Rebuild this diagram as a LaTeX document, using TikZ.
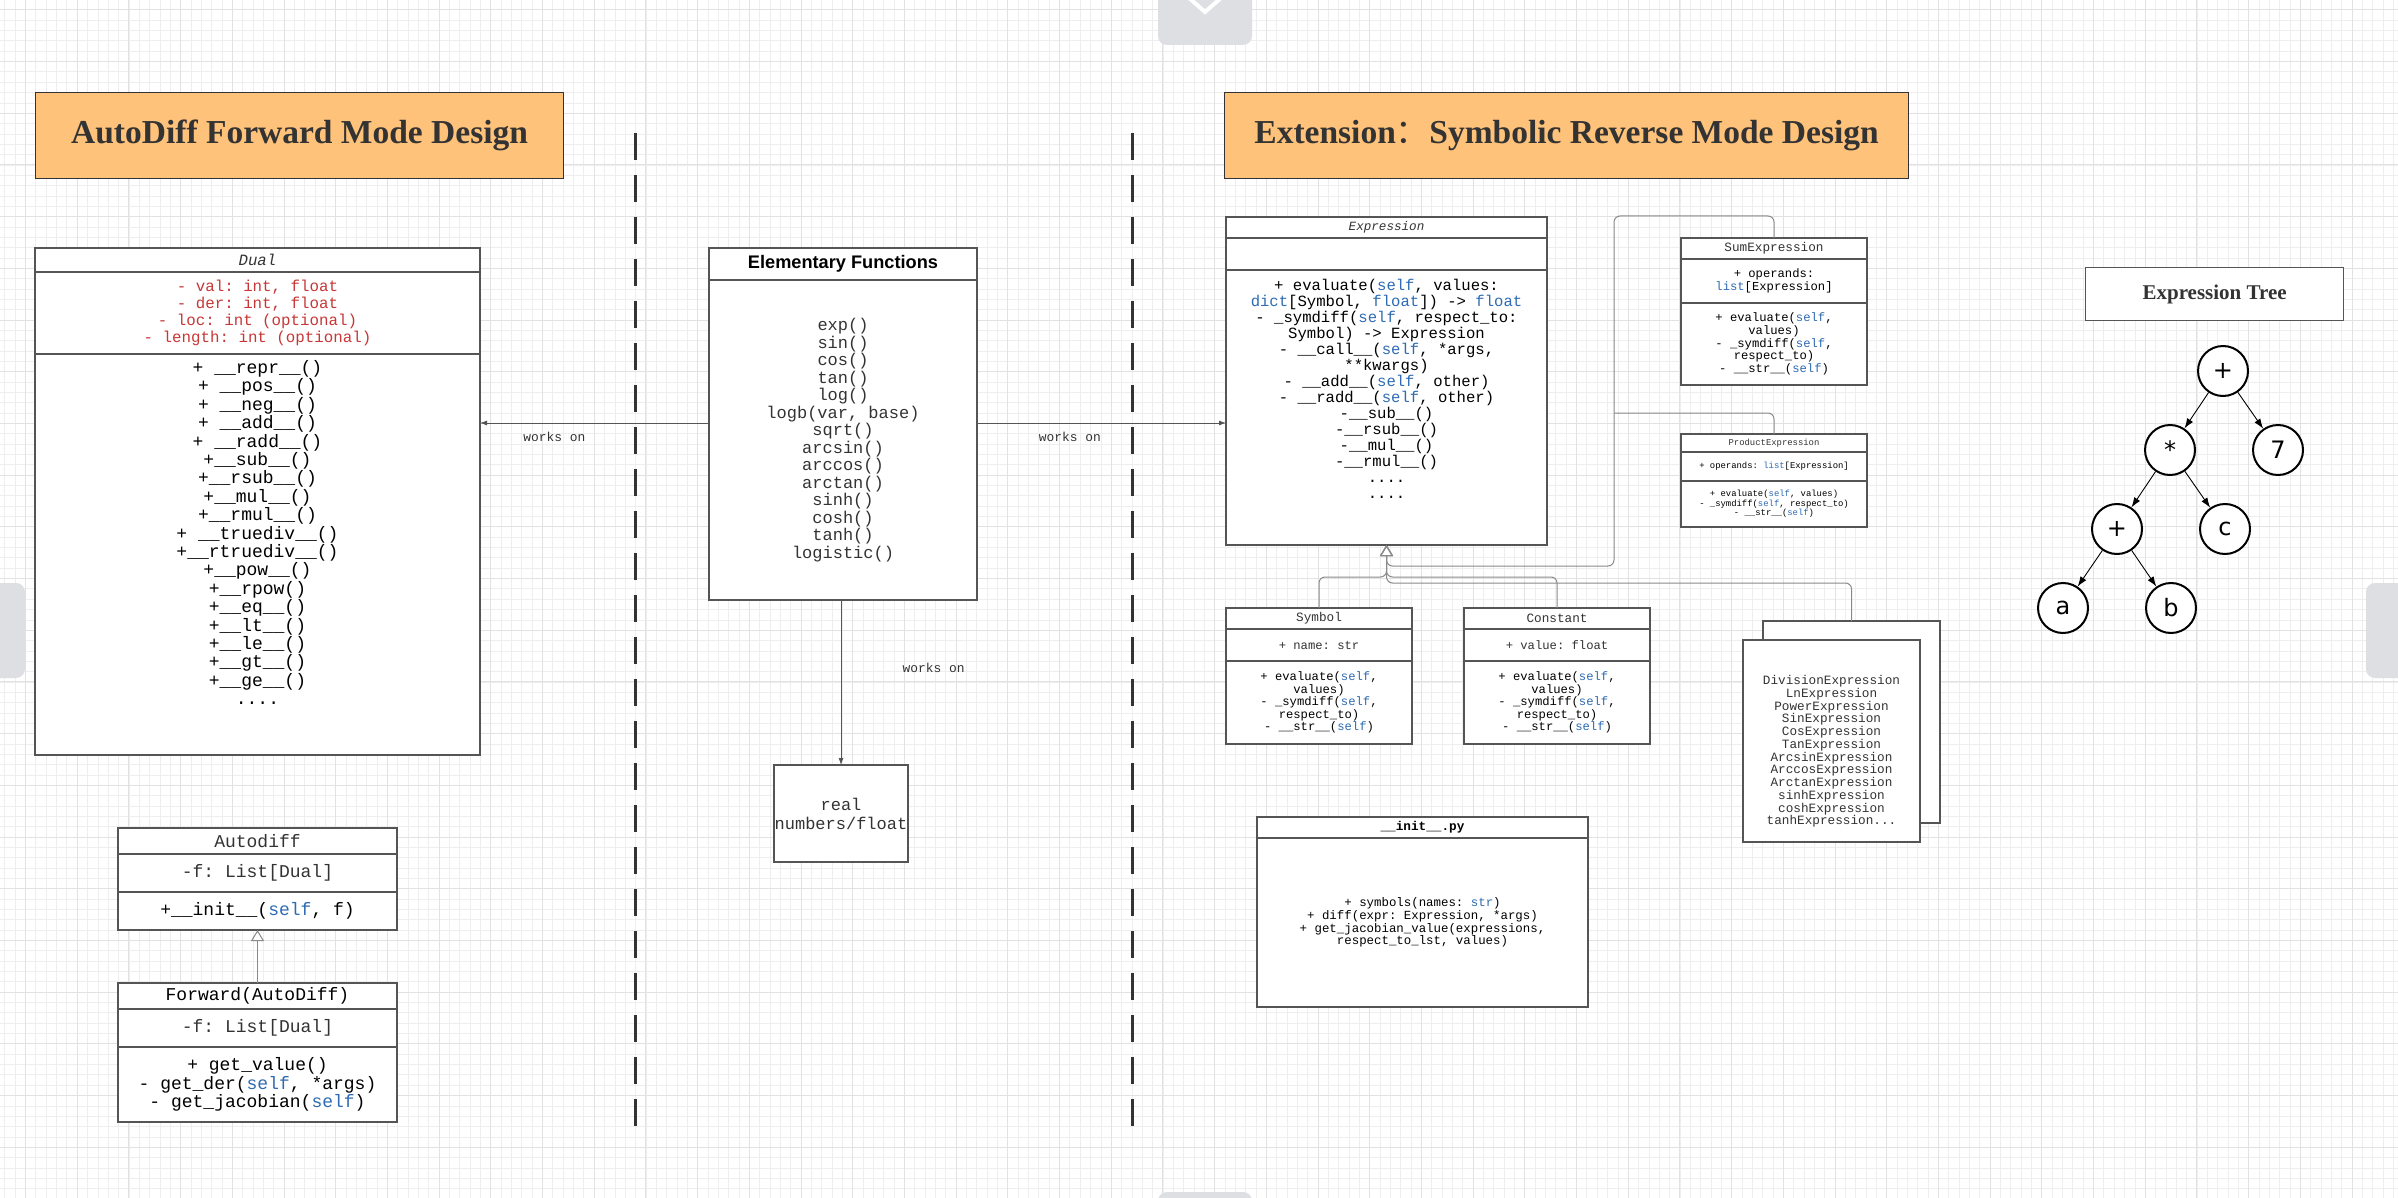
\documentclass[tikz,border=0pt]{standalone}
\usepackage{fontspec}
\setmainfont{Liberation Serif}
\setmonofont{Liberation Mono}
\newfontfamily\headsans{Liberation Sans}
\newfontfamily\treefont{DejaVu Sans}
\newfontfamily\cjk{Noto Sans CJK SC}
\usepackage{tikz}
\usetikzlibrary{positioning}
\usetikzlibrary{arrows.meta}

\definecolor{titleorange}{HTML}{FFC27A}
\definecolor{attrred}{HTML}{C83737}
\definecolor{kwblue}{HTML}{2E6BB3}
\definecolor{textgray}{HTML}{333333}
\definecolor{boxline}{HTML}{555555}
\definecolor{conngray}{HTML}{8A8A8A}
\definecolor{uigray}{HTML}{DEDFE2}
\definecolor{gridminor}{HTML}{EEEEEE}
\definecolor{gridmajor}{HTML}{E2E2E2}

\newcommand{\kw}[1]{\textcolor{kwblue}{#1}}
\newcommand{\fsz}[2]{\fontsize{#1}{#2}\selectfont}

\begin{document}
\begin{tikzpicture}[x=1pt,y=-1pt]
	\tikzstyle{every node}=[font=\ttfamily]
	\tikzstyle{sect}=[draw=boxline, fill=white, line width=1.2pt, inner sep=2pt, outer sep=0pt, align=center]
	\tikzstyle{titlebox}=[draw=textgray, fill=titleorange, line width=1.2pt, anchor=north west, font=\rmfamily\bfseries\fsz{33.5}{36}, text=textgray]
	\tikzstyle{wk}=[draw=boxline, line width=0.8pt, -{Latex[length=7pt,width=5pt]}]
	\tikzstyle{inh}=[draw=conngray, line width=1pt, rounded corners=6pt, -{Triangle[open,length=11pt,width=13pt]}]
	\tikzstyle{conn}=[draw=conngray, line width=1pt, rounded corners=6pt]
	\tikzstyle{lbl}=[font=\ttfamily\fsz{12.9}{14}, text=textgray]
	\tikzstyle{treenode}=[circle, draw=black, line width=2pt, minimum size=50pt, inner sep=0pt, fill=white, font=\treefont\fsz{24}{24}]
	\tikzstyle{treearrow}=[draw=black, line width=0.9pt, -{Latex[length=10pt,width=7pt]}]
	\tikzstyle{sepline}=[draw=textgray, line width=3pt, dash pattern=on 27pt off 15pt]
	
	\useasboundingbox (0,0) rectangle (2398,1198);
	
	% grid paper in the background
	\fill[white] (0,0) rectangle (2398,1198);
	\foreach \i in {0,...,232} {
		\draw[gridminor, line width=0.7pt] ({4.8+\i*10.34},0) -- ({4.8+\i*10.34},1198);
	}
	\foreach \j in {0,...,115} {
		\draw[gridminor, line width=0.7pt] (0,{9.8+\j*10.34}) -- (2398,{9.8+\j*10.34});
	}
	\foreach \i in {0,...,46} {
		\draw[gridmajor, line width=1pt] ({25.5+\i*51.7},0) -- ({25.5+\i*51.7},1198);
	}
	\foreach \j in {0,...,23} {
		\draw[gridmajor, line width=1pt] (0,{9.8+\j*51.7}) -- (2398,{9.8+\j*51.7});
	}
	
	% scroll handles at the edges
	\fill[uigray, rounded corners=9pt] (1158,-20) rectangle (1252,45);
	\draw[white, line width=4pt] (1188,-3) -- (1205,12) -- (1222,-3);
	\fill[uigray, rounded corners=9pt] (-20,583) rectangle (25,678);
	\fill[uigray, rounded corners=9pt] (2366,583) rectangle (2420,678);
	\fill[uigray, rounded corners=9pt] (1158,1192) rectangle (1252,1230);
	
	% dashed separators
	\foreach \x in {635,1132} {
		\draw[sepline] (\x,133) -- (\x,1130);
	}
	
	% titles
	\node[titlebox, minimum width=528pt, minimum height=86pt] (fwdTitle) at (35,92) {AutoDiff Forward Mode Design};
	\node[titlebox, minimum width=684pt, minimum height=86pt] (revTitle) at (1224,92) {Extension{\cjk\mdseries ：}Symbolic Reverse Mode Design};
	
	% Dual class
	\node[sect, anchor=north west, minimum width=445pt, minimum height=24pt, font=\ttfamily\itshape\fsz{15.7}{16}, text=textgray] (dualH) at (35,248) {Dual};
	\node[sect, below=0pt of dualH, minimum width=445pt, minimum height=82pt, font=\ttfamily\fsz{15.8}{17}, text=attrred] (dualA) {- val: int, float\\- der: int, float\\- loc: int (optional)\\- length: int (optional)};
	\node[sect, below=0pt of dualA, minimum width=445pt, minimum height=401pt] (dualM) {};
	\node[below=3pt of dualM.north, align=center, font=\ttfamily\fsz{18}{18.4}] (dualMtxt) {+ \_\_repr\_\_()\\+ \_\_pos\_\_()\\+ \_\_neg\_\_()\\+ \_\_add\_\_()\\+ \_\_radd\_\_()\\+\_\_sub\_\_()\\+\_\_rsub\_\_()\\+\_\_mul\_\_()\\+\_\_rmul\_\_()\\+ \_\_truediv\_\_()\\+\_\_rtruediv\_\_()\\+\_\_pow\_\_()\\+\_\_rpow()\\+\_\_eq\_\_()\\+\_\_lt\_\_()\\+\_\_le\_\_()\\+\_\_gt\_\_()\\+\_\_ge\_\_()\\....};
	
	% Autodiff and Forward
	\node[sect, anchor=north west, minimum width=279pt, minimum height=26pt, font=\ttfamily\fsz{18}{18.4}, text=textgray] (adH) at (118,828) {Autodiff};
	\node[sect, below=0pt of adH, minimum width=279pt, minimum height=38pt, font=\ttfamily\fsz{18}{18.4}, text=textgray] (adA) {-f: List[Dual]};
	\node[sect, below=0pt of adA, minimum width=279pt, minimum height=38pt, font=\ttfamily\fsz{18}{18.4}] (adM) {+\_\_init\_\_(\kw{self}, f)};
	\node[sect, anchor=north west, minimum width=279pt, minimum height=26pt, font=\ttfamily\fsz{18}{18.4}] (fwH) at (118,983) {Forward(AutoDiff)};
	\node[sect, below=0pt of fwH, minimum width=279pt, minimum height=38pt, font=\ttfamily\fsz{18}{18.4}, text=textgray] (fwA) {-f: List[Dual]};
	\node[sect, below=0pt of fwA, minimum width=279pt, minimum height=75pt, font=\ttfamily\fsz{18}{18.5}] (fwM) {+ get\_value()\\- get\_der(\kw{self}, *args)\\- get\_jacobian(\kw{self})};
	\draw[inh] (fwH.north) -- (adM.south);
	
	% Elementary functions and real numbers
	\node[sect, anchor=north west, minimum width=268pt, minimum height=32pt, font=\headsans\bfseries\fsz{18.2}{20}] (elH) at (709,248) {Elementary Functions};
	\node[sect, below=0pt of elH, minimum width=268pt, minimum height=320pt, font=\ttfamily\fsz{17}{17.5}, text=textgray] (elB) {exp()\\sin()\\cos()\\tan()\\log()\\logb(var, base)\\sqrt()\\arcsin()\\arccos()\\arctan()\\sinh()\\cosh()\\tanh()\\logistic()};
	\node[sect, anchor=north west, inner xsep=0pt, minimum width=134pt, minimum height=97pt, font=\ttfamily\fsz{17}{19}, text=textgray] (real) at (774,765) {real\\numbers/float};
	
	% Expression class
	\node[sect, anchor=north west, minimum width=321pt, minimum height=21pt, font=\ttfamily\itshape\fsz{12.6}{13}, text=textgray] (exH) at (1226,217) {Expression};
	\node[sect, below=0pt of exH, minimum width=321pt, minimum height=32pt] (exA) {};
	\node[sect, below=0pt of exA, minimum width=321pt, minimum height=275pt] (exM) {};
	\node[below=6pt of exM.north, align=center, font=\ttfamily\fsz{15.6}{16}] (exMtxt) {+ evaluate(\kw{self}, values:\\\kw{dict}[Symbol, \kw{float}]) -> \kw{float}\\- \_symdiff(\kw{self}, respect\_to:\\Symbol) -> Expression\\- \_\_call\_\_(\kw{self}, *args,\\**kwargs)\\- \_\_add\_\_(\kw{self}, other)\\- \_\_radd\_\_(\kw{self}, other)\\-\_\_sub\_\_()\\-\_\_rsub\_\_()\\-\_\_mul\_\_()\\-\_\_rmul\_\_()\\....\\....};
	
	% SumExpression and ProductExpression
	\node[sect, anchor=north west, minimum width=186pt, minimum height=21pt, font=\ttfamily\fsz{12.7}{13}, text=textgray] (suH) at (1681,238) {SumExpression};
	\node[sect, below=0pt of suH, minimum width=186pt, minimum height=44pt, font=\ttfamily\fsz{12.2}{12.6}] (suA) {+ operands:\\\kw{list}[Expression]};
	\node[sect, below=0pt of suA, minimum width=186pt, minimum height=82pt, font=\ttfamily\fsz{12.2}{12.6}] (suM) {+ evaluate(\kw{self},\\values)\\- \_symdiff(\kw{self},\\respect\_to)\\- \_\_str\_\_(\kw{self})};
	\node[sect, anchor=north west, minimum width=186pt, minimum height=18pt, font=\ttfamily\fsz{8.9}{9.5}, text=textgray] (prH) at (1681,434) {ProductExpression};
	\node[sect, below=0pt of prH, minimum width=186pt, minimum height=29pt, font=\ttfamily\fsz{8.9}{9.5}] (prA) {+ operands: \kw{list}[Expression]};
	\node[sect, below=0pt of prA, minimum width=186pt, minimum height=46pt, font=\ttfamily\fsz{8.9}{9.5}] (prM) {+ evaluate(\kw{self}, values)\\- \_symdiff(\kw{self}, respect\_to)\\- \_\_str\_\_(\kw{self})};
	
	% Symbol and Constant
	\node[sect, anchor=north west, minimum width=186pt, minimum height=21pt, font=\ttfamily\fsz{12.7}{13}, text=textgray] (syH) at (1226,608) {Symbol};
	\node[sect, below=0pt of syH, minimum width=186pt, minimum height=32pt, font=\ttfamily\fsz{12.2}{12.6}, text=textgray] (syA) {+ name: str};
	\node[sect, below=0pt of syA, minimum width=186pt, minimum height=83pt, font=\ttfamily\fsz{12.2}{12.6}] (syM) {+ evaluate(\kw{self},\\values)\\- \_symdiff(\kw{self},\\respect\_to)\\- \_\_str\_\_(\kw{self})};
	\node[sect, anchor=north west, minimum width=186pt, minimum height=21pt, font=\ttfamily\fsz{12.7}{13}, text=textgray] (coH) at (1464,608) {Constant};
	\node[sect, below=0pt of coH, minimum width=186pt, minimum height=32pt, font=\ttfamily\fsz{12.2}{12.6}, text=textgray] (coA) {+ value: float};
	\node[sect, below=0pt of coA, minimum width=186pt, minimum height=83pt, font=\ttfamily\fsz{12.2}{12.6}] (coM) {+ evaluate(\kw{self},\\values)\\- \_symdiff(\kw{self},\\respect\_to)\\- \_\_str\_\_(\kw{self})};
	
	% the other expressions, stacked
	\node[sect, anchor=north west, minimum width=177pt, minimum height=202pt] (divB) at (1763,621) {};
	\node[sect, anchor=north west, minimum width=177pt, minimum height=202pt] (divF) at (1743,640) {};
	\node[below=32pt of divF.north, align=center, font=\ttfamily\fsz{12.7}{12.75}, text=textgray] (divFtxt) {DivisionExpression\\LnExpression\\PowerExpression\\SinExpression\\CosExpression\\TanExpression\\ArcsinExpression\\ArccosExpression\\ArctanExpression\\sinhExpression\\coshExpression\\tanhExpression...};
	
	% __init__.py
	\node[sect, anchor=north west, minimum width=331pt, minimum height=21pt, font=\ttfamily\bfseries\fsz{12.7}{13}] (inH) at (1257,817) {\_\_init\_\_.py};
	\node[sect, below=0pt of inH, minimum width=331pt, minimum height=169pt, font=\ttfamily\fsz{12.4}{12.7}] (inB) {+ symbols(names: \kw{str})\\+ diff(expr: Expression, *args)\\+ get\_jacobian\_value(expressions,\\respect\_to\_lst, values)};
	
	% works on
	\coordinate (elemMid) at (843,423);
	\draw[wk] (elemMid -| elH.west) -- (elemMid -| dualM.east) node[lbl, pos=0.675, below=5pt] (lblDual) {works on};
	\draw[wk] (elemMid -| elH.east) -- (elemMid -| exM.west) node[lbl, pos=0.373, below=5pt] (lblExpr) {works on};
	\draw[wk] (real.north |- elB.south) -- (real.north) node[lbl, pos=0.41, right=58pt] (lblReal) {works on};
	
	% inheritance to Expression
	\coordinate (jSym) at (1386.5,577);
	\coordinate (jSum) at (1386.5,566);
	\coordinate (jDiv) at (1386.5,583);
	\coordinate (busTop) at (1614,216);
	\coordinate (busMid) at (1614,413);
	\draw[inh] (syH.north) |- (jSym) -- (exM.south);
	\draw[inh] (coH.north) |- (jSym) -- (exM.south);
	\draw[inh] (divB.north) |- (jDiv) -- (exM.south);
	\draw[inh] (suH.north) |- (busTop) |- (jSum) -- (exM.south);
	\draw[conn] (prH.north) |- (busMid);
	
	% expression tree
	\node[draw=boxline, fill=white, line width=1.2pt, anchor=north west, minimum width=258pt, minimum height=53pt, font=\rmfamily\bfseries\fsz{21}{23}, text=textgray] (treeTitle) at (2085,267) {Expression Tree};
	\node[treenode] (rootPlus) at (2223,371) {+};
	\node[treenode] (mulNode) at (2170,450) {*};
	\node[treenode] (seven) at (2278,450) {7};
	\node[treenode] (innerPlus) at (2117,529) {+};
	\node[treenode] (cNode) at (2225,529) {c};
	\node[treenode] (aNode) at (2063,608) {a};
	\node[treenode] (bNode) at (2171,608) {b};
	\draw[treearrow] (rootPlus) -- (mulNode);
	\draw[treearrow] (rootPlus) -- (seven);
	\draw[treearrow] (mulNode) -- (innerPlus);
	\draw[treearrow] (mulNode) -- (cNode);
	\draw[treearrow] (innerPlus) -- (aNode);
	\draw[treearrow] (innerPlus) -- (bNode);
	
\end{tikzpicture}
\end{document}
